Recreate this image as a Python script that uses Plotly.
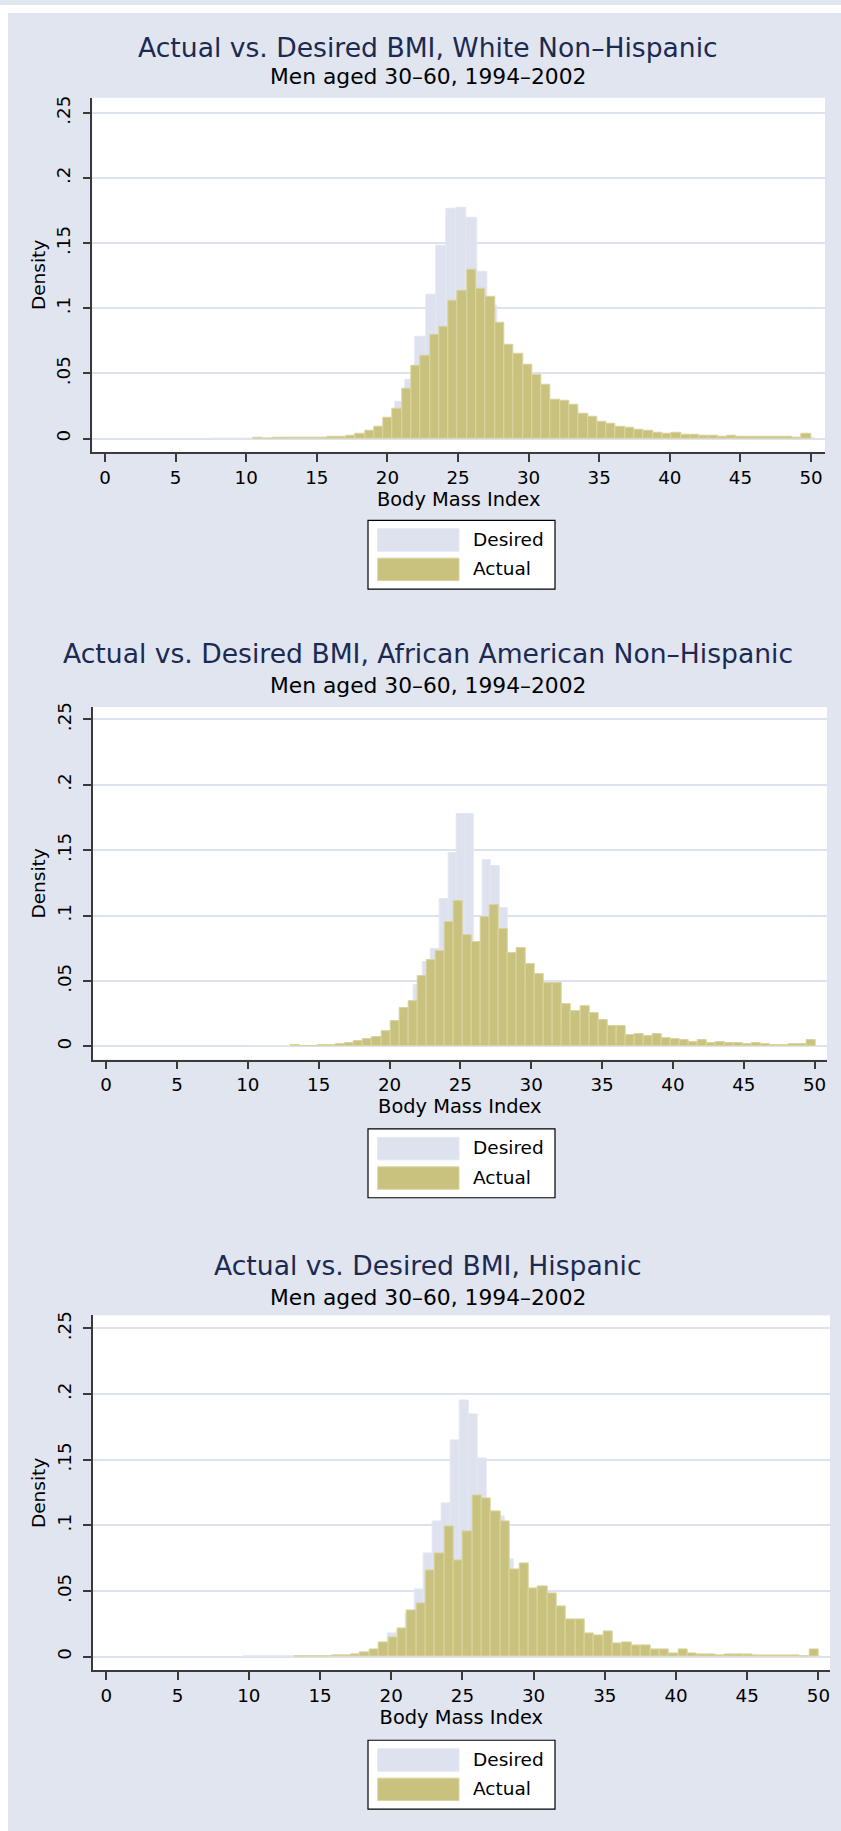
import plotly.graph_objects as go

FIG_W, FIG_H = 841, 1831

BMI_TICKS = [0, 5, 10, 15, 20, 25, 30, 35, 40, 45, 50]
DENSITY_TICKS = [0, 0.05, 0.10, 0.15, 0.20, 0.25]
DENSITY_TICK_LABELS = ["0", ".05", ".1", ".15", ".2", ".25"]

TITLES = [
    "Actual vs. Desired BMI, White Non\u2013Hispanic",
    "Actual vs. Desired BMI, African American Non\u2013Hispanic",
    "Actual vs. Desired BMI, Hispanic",
]
SUBTITLE = "Men aged 30\u201360, 1994\u20132002"
X_TITLE = "Body Mass Index"
Y_TITLE = "Density"
SERIES_NAMES = ["Desired", "Actual"]

# ---- White Non-Hispanic: histogram densities (first bin edge, bin width, heights)
white_actual_start, white_actual_width = 10.50, 0.6583
white_actual = [
    0.0003, 0.0002, 0.0003, 0.0004, 0.0004, 0.0005, 0.0007, 0.0009, 0.0011,
    0.0013, 0.0020, 0.0033, 0.0059, 0.0087, 0.0158, 0.0232, 0.0383, 0.0556,
    0.0633, 0.0798, 0.0855,
    0.1059, 0.1133, 0.1298, 0.1150, 0.1087, 0.0888, 0.0719, 0.0648, 0.0569,
    0.0487, 0.0411, 0.0298,
    0.0293, 0.0263, 0.0194, 0.0168, 0.0130, 0.0110, 0.0094, 0.0084, 0.0071,
    0.0056, 0.0041, 0.0038, 0.0048, 0.0028, 0.0031, 0.0020, 0.0023, 0.0015,
    0.0018, 0.0015, 0.0015, 0.0010, 0.0010, 0.0010, 0.0010, 0.0008, 0.0033,
]
white_desired_start, white_desired_width = 7.53, 0.7233
white_desired = [
    0.0002, 0.0002, 0.0002, 0.0002, 0.0002, 0.0002, 0.0002, 0.0003, 0.0003,
    0.0004, 0.0005, 0.0006, 0.0008, 0.0012, 0.0018, 0.0030, 0.0080, 0.0150,
    0.0286, 0.0452, 0.0781, 0.1107, 0.1477, 0.1765, 0.1773, 0.1694, 0.1283,
    0.1020,
    0.0600, 0.0450, 0.0320, 0.0220, 0.0160, 0.0110, 0.0080, 0.0060, 0.0045,
    0.0035, 0.0030, 0.0025, 0.0020, 0.0018, 0.0015, 0.0012,
    0.0010, 0.0009, 0.0008, 0.0007, 0.0006, 0.0006, 0.0005, 0.0005, 0.0004,
    0.0004, 0.0004, 0.0003, 0.0003, 0.0003, 0.0004,
]

# ---- African American Non-Hispanic
black_actual_start, black_actual_width = 13.03, 0.6384
black_actual = [
    0.0008, 0.0000, 0.0000, 0.0010, 0.0010, 0.0015, 0.0023, 0.0040, 0.0060,
    0.0074, 0.0114, 0.0193, 0.0290, 0.0348, 0.0541, 0.0658, 0.0727,
    0.0948, 0.1108, 0.0849, 0.0796, 0.0991, 0.1083, 0.0895, 0.0716, 0.0752,
    0.0630, 0.0556, 0.0488, 0.0483,
    0.0325, 0.0274, 0.0310, 0.0254, 0.0203, 0.0152, 0.0158, 0.0086, 0.0091,
    0.0079, 0.0097, 0.0064, 0.0053, 0.0048, 0.0030, 0.0046, 0.0025, 0.0030,
    0.0025, 0.0028, 0.0020, 0.0025, 0.0015, 0.0013, 0.0013, 0.0015, 0.0018,
    0.0051,
]
black_desired_start, black_desired_width = 10.27, 0.6033
black_desired = [
    0.0002, 0.0002, 0.0002, 0.0002, 0.0002, 0.0003, 0.0003, 0.0005, 0.0008,
    0.0010, 0.0014, 0.0020, 0.0035, 0.0040, 0.0055, 0.0070, 0.0110, 0.0180,
    0.0270,
    0.0470, 0.0648, 0.0747, 0.1123, 0.1477, 0.1779, 0.1779, 0.0750, 0.1426,
    0.1375, 0.1060,
    0.0650, 0.0550, 0.0450, 0.0350, 0.0280, 0.0200, 0.0150, 0.0120, 0.0090,
    0.0070, 0.0055, 0.0045, 0.0035, 0.0030, 0.0025, 0.0020, 0.0020, 0.0018,
    0.0015, 0.0013, 0.0012,
    0.0010, 0.0010, 0.0009, 0.0008, 0.0008, 0.0007, 0.0007, 0.0006, 0.0006,
    0.0005, 0.0005, 0.0005, 0.0004, 0.0004, 0.0006,
]

# ---- Hispanic
hisp_actual_start, hisp_actual_width = 13.22, 0.6571
hisp_actual = [
    0.0004, 0.0004, 0.0003, 0.0005, 0.0008, 0.0010, 0.0020, 0.0033, 0.0053,
    0.0111, 0.0144, 0.0218, 0.0352, 0.0405, 0.0658, 0.0785,
    0.0992, 0.0737, 0.0954, 0.1230, 0.1205, 0.1106, 0.1028, 0.0663, 0.0709,
    0.0522, 0.0534, 0.0481, 0.0385,
    0.0281, 0.0286, 0.0175, 0.0165, 0.0192, 0.0104, 0.0111, 0.0084, 0.0084,
    0.0053, 0.0053, 0.0028, 0.0053, 0.0025, 0.0020, 0.0020, 0.0013, 0.0015,
    0.0015, 0.0015, 0.0013, 0.0008, 0.0013, 0.0008, 0.0008, 0.0003, 0.0056,
]
hisp_desired_start, hisp_desired_width = 9.62, 0.633
hisp_desired = [
    0.0002, 0.0002, 0.0002, 0.0002, 0.0002, 0.0002, 0.0003, 0.0003, 0.0003,
    0.0005, 0.0007, 0.0010, 0.0018, 0.0030, 0.0050, 0.0090,
    0.0175, 0.0200, 0.0330, 0.0511, 0.0787, 0.1030, 0.1170, 0.1650, 0.1950,
    0.1848, 0.1514, 0.1000, 0.1070, 0.0740,
    0.0600, 0.0480, 0.0400, 0.0300, 0.0220, 0.0160, 0.0120, 0.0090, 0.0070,
    0.0055, 0.0045, 0.0035, 0.0030, 0.0025, 0.0020,
    0.0018, 0.0015, 0.0014, 0.0012, 0.0010, 0.0010, 0.0009, 0.0008, 0.0008,
    0.0007, 0.0007, 0.0006, 0.0006, 0.0005, 0.0005, 0.0005, 0.0003, 0.0003,
    0.0005,
]

GROUP_DATA = [
    ((white_desired_start, white_desired_width, white_desired),
     (white_actual_start, white_actual_width, white_actual)),
    ((black_desired_start, black_desired_width, black_desired),
     (black_actual_start, black_actual_width, black_actual)),
    ((hisp_desired_start, hisp_desired_width, hisp_desired),
     (hisp_actual_start, hisp_actual_width, hisp_actual)),
]

# ---- styling
BG = "#e0e5f0"
DESIRED_FILL = "#dde2ee"
DESIRED_LINE = "#e3e7f1"
ACTUAL_FILL = "#c9c27f"
ACTUAL_LINE = "#dad49f"
GRID = "#dde2ee"
AXIS = "#3a3a3a"
TITLE_COLOR = "#1c2a52"
FONT = "DejaVu Sans"

# Frame of each plot region in page pixels, plus where x=0 / density=0 fall.
FRAMES = [
    dict(left=92.3, right=825.0, top=93.0, bottom=448.3,
         x_zero=105.0, x_unit=14.12, y_zero=434.7, y_unit=1306.0,
         title_y=43.0, subtitle_y=72.0, legend_top=516.7),
    dict(left=92.7, right=827.0, top=704.0, bottom=1057.5,
         x_zero=106.1, x_unit=14.17, y_zero=1044.3, y_unit=1312.0,
         title_y=650.6, subtitle_y=682.0, legend_top=1127.0),
    dict(left=92.7, right=830.0, top=1314.0, bottom=1670.0,
         x_zero=106.4, x_unit=14.24, y_zero=1656.3, y_unit=1317.0,
         title_y=1264.0, subtitle_y=1296.5, legend_top=1740.0),
]
TITLE_X = 428.0


def px_x(v):
    return v / FIG_W


def px_y(v):
    return 1 - v / FIG_H


def bin_edges(start, width, n):
    return [start + i * width for i in range(n)]


fig = go.Figure()
shapes = []
annotations = []

# thin white margin along the top and left page edges
shapes.append(dict(type="rect", xref="paper", yref="paper", x0=0, x1=px_x(8),
                   y0=0, y1=1, fillcolor="white", line_width=0, layer="below"))
shapes.append(dict(type="rect", xref="paper", yref="paper", x0=0, x1=1,
                   y0=px_y(8), y1=1, fillcolor="white", line_width=0, layer="below"))

for i, (frame, (desired, actual), title) in enumerate(zip(FRAMES, GROUP_DATA, TITLES)):
    sfx = "" if i == 0 else str(i + 1)
    xa, ya = "x" + sfx, "y" + sfx

    for (start, width, heights), name, fill, edge in (
        (desired, SERIES_NAMES[0], DESIRED_FILL, DESIRED_LINE),
        (actual, SERIES_NAMES[1], ACTUAL_FILL, ACTUAL_LINE),
    ):
        fig.add_trace(go.Bar(
            x=bin_edges(start, width, len(heights)), y=heights,
            width=width, offset=0, name=name, showlegend=False,
            marker=dict(color=fill, line=dict(color=edge, width=1)),
            xaxis=xa, yaxis=ya,
        ))

    x_range = [(frame["left"] - frame["x_zero"]) / frame["x_unit"],
               (frame["right"] - frame["x_zero"]) / frame["x_unit"]]
    y_range = [(frame["y_zero"] - frame["bottom"]) / frame["y_unit"],
               (frame["y_zero"] - frame["top"]) / frame["y_unit"]]

    fig.layout["xaxis" + sfx] = dict(
        domain=[px_x(frame["left"]), px_x(frame["right"])], anchor=ya,
        range=x_range, tickmode="array", tickvals=BMI_TICKS,
        showgrid=False, zeroline=False, showline=True, linecolor=AXIS, linewidth=1.5,
        ticks="outside", ticklen=8, tickwidth=1.5, tickcolor=AXIS,
        tickfont=dict(family=FONT, size=18.3, color="black"),
        title=dict(text=X_TITLE, standoff=3, font=dict(family=FONT, size=19.4, color="black")),
    )
    fig.layout["yaxis" + sfx] = dict(
        domain=[px_y(frame["bottom"]), px_y(frame["top"])], anchor=xa,
        range=y_range, tickmode="array", tickvals=DENSITY_TICKS,
        ticktext=DENSITY_TICK_LABELS, tickangle=-90,
        showgrid=True, gridcolor=GRID, gridwidth=1.5, zeroline=False,
        showline=True, linecolor=AXIS, linewidth=1.5,
        ticks="outside", ticklen=8, tickwidth=1.5, tickcolor=AXIS,
        ticklabelstandoff=5,
        tickfont=dict(family=FONT, size=18.3, color="black"),
        title=dict(text=Y_TITLE, standoff=3, font=dict(family=FONT, size=18.5, color="black")),
    )

    annotations.append(dict(
        text=title, xref="paper", yref="paper", x=px_x(TITLE_X), y=px_y(frame["title_y"]),
        xanchor="center", yanchor="middle", showarrow=False,
        font=dict(family=FONT, size=26.6, color=TITLE_COLOR),
    ))
    annotations.append(dict(
        text=SUBTITLE, xref="paper", yref="paper", x=px_x(TITLE_X), y=px_y(frame["subtitle_y"]),
        xanchor="center", yanchor="middle", showarrow=False,
        font=dict(family=FONT, size=21.8, color="black"),
    ))

    # legend box with the two series keys
    lt = frame["legend_top"]
    box_l, box_r = 368.0, 555.0
    shapes.append(dict(type="rect", xref="paper", yref="paper",
                       x0=px_x(box_l), x1=px_x(box_r), y0=px_y(lt + 69), y1=px_y(lt),
                       fillcolor="white", line=dict(color="black", width=1.2)))
    for k, (name, fill, edge) in enumerate(((SERIES_NAMES[0], DESIRED_FILL, DESIRED_LINE),
                                            (SERIES_NAMES[1], ACTUAL_FILL, ACTUAL_LINE))):
        top = lt + 8.5 + k * 29.5
        shapes.append(dict(type="rect", xref="paper", yref="paper",
                           x0=px_x(377.7), x1=px_x(459.0), y0=px_y(top + 22.5), y1=px_y(top),
                           fillcolor=fill, line=dict(color=edge, width=1)))
        annotations.append(dict(
            text=name, xref="paper", yref="paper", x=px_x(471.0), y=px_y(top + 10.5),
            xanchor="left", yanchor="middle", showarrow=False,
            font=dict(family=FONT, size=18.5, color="black"),
        ))

fig.update_layout(
    width=FIG_W, height=FIG_H, margin=dict(l=0, r=0, t=0, b=0),
    paper_bgcolor=BG, plot_bgcolor="white", barmode="overlay", bargap=0,
    shapes=shapes, annotations=annotations, showlegend=False,
    font=dict(family=FONT),
)

fig.write_html("out.html", config={"displayModeBar": False})
